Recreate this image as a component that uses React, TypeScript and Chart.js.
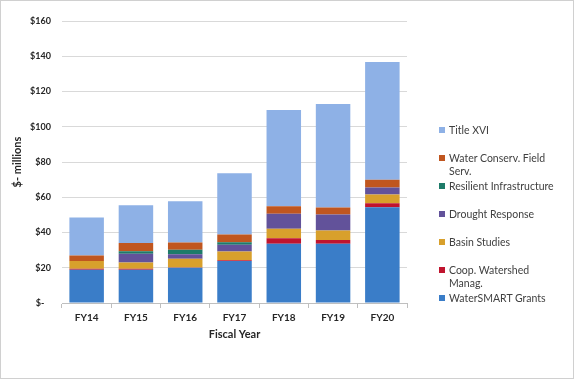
import React, { useEffect, useRef } from "react";
import { Chart, registerables } from "chart.js";

Chart.register(...registerables);

const categories = ["FY14", "FY15", "FY16", "FY17", "FY18", "FY19", "FY20"];
const waterSmartGrants = [18.9, 18.9, 20.0, 23.8, 33.6, 33.6, 54.3];
const coopWatershed = [0.5, 0.5, 0.2, 0.4, 3.2, 2.2, 2.3];
const basinStudies = [4.4, 3.6, 4.9, 5.0, 5.3, 5.3, 4.9];
const droughtResponse = [0, 4.9, 2.6, 3.8, 8.5, 9.1, 4.0];
const resilientInfra = [0, 1.5, 2.5, 1.5, 0, 0, 0];
const waterConservFS = [3.2, 4.6, 4.1, 4.4, 4.3, 4.0, 4.5];
const titleXVI = [21.5, 21.5, 23.4, 34.7, 54.6, 58.7, 66.7];
const yTicks = [0, 20, 40, 60, 80, 100, 120, 140, 160];

const series = [
  { label: "WaterSMART Grants", data: waterSmartGrants, color: "#3a7dc8" },
  { label: "Coop. Watershed Manag.", data: coopWatershed, color: "#c0142e" },
  { label: "Basin Studies", data: basinStudies, color: "#d8a02c" },
  { label: "Drought Response", data: droughtResponse, color: "#62529a" },
  { label: "Resilient Infrastructure", data: resilientInfra, color: "#1e7b69" },
  { label: "Water Conserv. Field Serv.", data: waterConservFS, color: "#c0561f" },
  { label: "Title XVI", data: titleXVI, color: "#8eb1e6" },
];

const legendItems = [
  { lines: ["Title XVI"], color: "#8eb1e6", y: 130 },
  { lines: ["Water Conserv. Field", "Serv."], color: "#c0561f", y: 158 },
  { lines: ["Resilient Infrastructure"], color: "#1e7b69", y: 186 },
  { lines: ["Drought Response"], color: "#62529a", y: 214 },
  { lines: ["Basin Studies"], color: "#d8a02c", y: 242 },
  { lines: ["Coop. Watershed", "Manag."], color: "#c0142e", y: 270 },
  { lines: ["WaterSMART Grants"], color: "#3a7dc8", y: 298 },
];

const FONT = "Lato, 'Open Sans', sans-serif";

export default function App() {
  const ref = useRef<HTMLCanvasElement>(null);

  useEffect(() => {
    if (!ref.current) return;
    const chart = new Chart(ref.current, {
      type: "bar",
      data: {
        labels: categories,
        datasets: series.map((s) => ({
          label: s.label,
          data: s.data,
          backgroundColor: s.color,
          borderWidth: 0,
          barPercentage: 0.7,
          categoryPercentage: 1,
        })),
      },
      options: {
        responsive: false,
        animation: false,
        layout: { padding: { left: 11, right: 168, top: 21, bottom: 39 } },
        plugins: { legend: { display: false }, tooltip: { enabled: false } },
        scales: {
          x: {
            stacked: true,
            grid: {
              offset: true,
              drawOnChartArea: false,
              drawTicks: true,
              tickLength: 5,
              color: "#bfbfbf",
            },
            border: { display: true, color: "#bfbfbf" },
            ticks: {
              padding: 4,
              color: "#262626",
              font: { family: FONT, size: 10, weight: "bold" },
            },
            title: {
              display: true,
              text: "Fiscal Year",
              color: "#262626",
              padding: 0,
              font: { family: FONT, size: 11, weight: "bold" },
            },
            afterFit: (scale: any) => {
              scale.height = 38;
            },
          },
          y: {
            stacked: true,
            min: 0,
            max: 160,
            afterBuildTicks: (scale: any) => {
              scale.ticks = yTicks.map((v) => ({ value: v }));
            },
            grid: { color: "#d9d9d9", drawTicks: false },
            border: { display: false },
            ticks: {
              padding: 11,
              color: "#262626",
              font: { family: FONT, size: 9, weight: "bold" },
              callback: (v: any) => (Number(v) === 0 ? "$-   " : "$" + v),
            },
            title: {
              display: true,
              text: "$- millions",
              color: "#262626",
              padding: { top: 0, bottom: 0 },
              font: { family: FONT, size: 11, weight: "bold" },
            },
            afterFit: (scale: any) => {
              scale.width = 51;
            },
          },
        },
      },
    });
    return () => chart.destroy();
  }, []);

  return (
    <div
      style={{
        position: "fixed",
        left: 0,
        top: 0,
        width: 575,
        height: 380,
        background: "#fff",
        boxSizing: "border-box",
      }}
    >
      <canvas ref={ref} width={575} height={380} style={{ position: "absolute", left: 0, top: 0 }} />
      <div
        style={{
          position: "absolute",
          left: 0,
          top: 0,
          width: 574,
          height: 379,
          border: "1px solid #d0d0d0",
          boxSizing: "border-box",
          pointerEvents: "none",
        }}
      />
      {legendItems.map((it) => (
        <div
          key={it.lines[0]}
          style={{
            position: "absolute",
            left: 439,
            top: it.y - 6.5,
            fontFamily: FONT,
            fontSize: 10.5,
            lineHeight: "13px",
            color: "#404040",
            whiteSpace: "nowrap",
          }}
        >
          <span
            style={{
              position: "absolute",
              left: 0,
              top: 3.5,
              width: 6,
              height: 6,
              background: it.color,
            }}
          />
          <div style={{ marginLeft: 10 }}>
            {it.lines.map((l) => (
              <div key={l}>{l}</div>
            ))}
          </div>
        </div>
      ))}
    </div>
  );
}
